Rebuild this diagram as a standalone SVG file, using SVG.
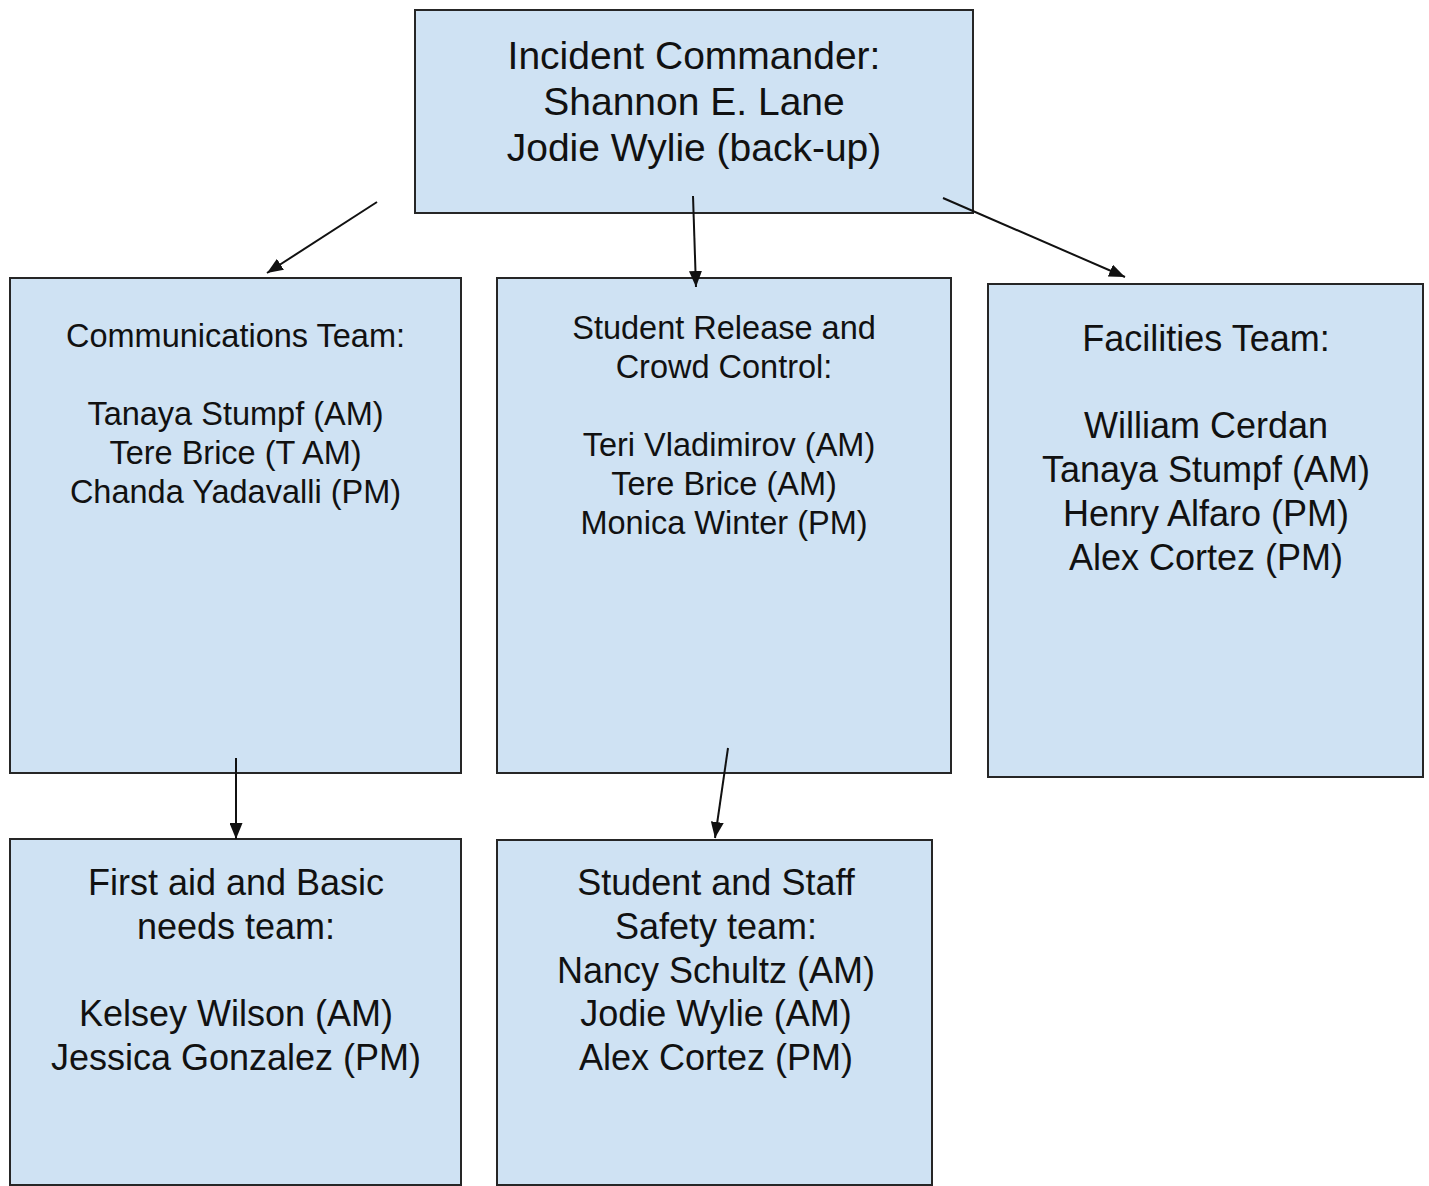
<svg xmlns="http://www.w3.org/2000/svg" width="1429" height="1186" viewBox="0 0 1429 1186">
  <style>
    .box { fill: #cfe2f3; stroke: #262626; stroke-width: 2; }
    .t { font-family: "Liberation Sans", Arial, sans-serif; fill: #111; text-anchor: middle; }
    .f39 { font-size: 39px; }
    .f36 { font-size: 36px; }
    .f32 { font-size: 32.5px; }
    .conn { stroke: #111; stroke-width: 2; fill: none; marker-end: url(#arr); }
  </style>
  <defs>
    <marker id="arr" markerUnits="userSpaceOnUse" markerWidth="16" markerHeight="13" refX="16" refY="6.5" orient="auto">
      <path d="M0,0 L16,6.5 L0,13 z" fill="#111"/>
    </marker>
  </defs>
  <rect width="1429" height="1186" fill="#ffffff"/>

  <g id="incident-commander">
    <rect class="box" x="415" y="10" width="558" height="203"/>
    <text class="t f39" x="694" y="69">Incident Commander:</text>
    <text class="t f39" x="694" y="115">Shannon E. Lane</text>
    <text class="t f39" x="694" y="161">Jodie Wylie (back-up)</text>
  </g>

  <g id="communications-team">
    <rect class="box" x="10" y="278" width="451" height="495"/>
    <text class="t f32" x="235.5" y="347">Communications Team:</text>
    <text class="t f32" x="235.5" y="425">Tanaya Stumpf (AM)</text>
    <text class="t f32" x="235.5" y="464">Tere Brice (T AM)</text>
    <text class="t f32" x="235.5" y="503">Chanda Yadavalli (PM)</text>
  </g>

  <g id="student-release">
    <rect class="box" x="497" y="278" width="454" height="495"/>
    <text class="t f32" x="724" y="339">Student Release and</text>
    <text class="t f32" x="724" y="378">Crowd Control:</text>
    <text class="t f32" x="729" y="456">Teri Vladimirov (AM)</text>
    <text class="t f32" x="724" y="495">Tere Brice (AM)</text>
    <text class="t f32" x="724" y="534">Monica Winter (PM)</text>
  </g>

  <g id="facilities-team">
    <rect class="box" x="988" y="284" width="435" height="493"/>
    <text class="t f36" x="1206" y="351">Facilities Team:</text>
    <text class="t f36" x="1206" y="438">William Cerdan</text>
    <text class="t f36" x="1206" y="482">Tanaya Stumpf (AM)</text>
    <text class="t f36" x="1206" y="526">Henry Alfaro (PM)</text>
    <text class="t f36" x="1206" y="570">Alex Cortez (PM)</text>
  </g>

  <g id="first-aid-team">
    <rect class="box" x="10" y="839" width="451" height="346"/>
    <text class="t f36" x="236" y="895">First aid and Basic</text>
    <text class="t f36" x="236" y="939">needs team:</text>
    <text class="t f36" x="236" y="1026">Kelsey Wilson (AM)</text>
    <text class="t f36" x="236" y="1070">Jessica Gonzalez (PM)</text>
  </g>

  <g id="safety-team">
    <rect class="box" x="497" y="840" width="435" height="345"/>
    <text class="t f36" x="716" y="895">Student and Staff</text>
    <text class="t f36" x="716" y="939">Safety team:</text>
    <text class="t f36" x="716" y="983">Nancy Schultz (AM)</text>
    <text class="t f36" x="716" y="1026">Jodie Wylie (AM)</text>
    <text class="t f36" x="716" y="1070">Alex Cortez (PM)</text>
  </g>

  <g id="connectors">
    <line class="conn" x1="377" y1="202" x2="267" y2="273"/>
    <line class="conn" x1="693" y1="196" x2="696" y2="287"/>
    <line class="conn" x1="943" y1="198" x2="1125" y2="277"/>
    <line class="conn" x1="236" y1="758" x2="236" y2="839"/>
    <line class="conn" x1="728" y1="748" x2="715" y2="838"/>
  </g>
</svg>
